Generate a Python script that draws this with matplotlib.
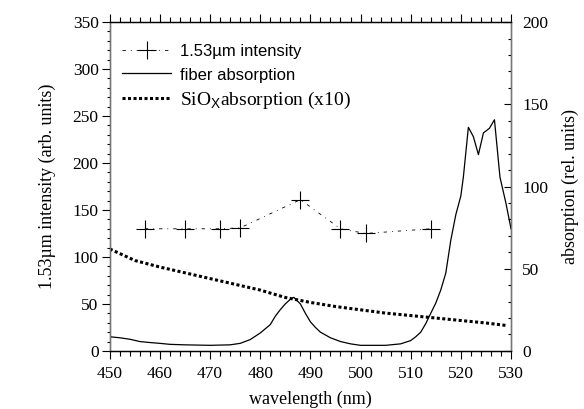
import numpy as np
import matplotlib
matplotlib.use('Agg')
import matplotlib.pyplot as plt
from matplotlib.ticker import MultipleLocator

plt.rcParams['font.family'] = ['Liberation Serif', 'DejaVu Serif']
plt.rcParams['mathtext.fontset'] = 'custom'
plt.rcParams['mathtext.rm'] = 'Liberation Sans'

# 1.53um intensity (left axis, arb. units)
pl_wl = [457, 465, 472, 476, 488, 496, 501, 514]
pl_int = [130, 130, 130, 131, 161, 130, 125, 130]

# fiber absorption (right axis, rel. units)
fib_wl = [450, 452, 454, 456, 458, 460, 462, 465, 470, 474, 476, 478, 480, 482,
          483, 484, 485, 486, 486.7, 488, 489, 490, 491, 492, 494, 496, 498, 500,
          505, 508, 510, 511, 512, 513, 514, 515, 516, 517, 518, 519, 520, 520.5,
          521.5, 522.5, 523.5, 524.5, 525.7, 526.7, 527.8, 529, 530]
fib_abs = [8.6, 8.0, 7.1, 5.7, 5.1, 4.6, 4.0, 3.7, 3.4, 3.7, 4.6, 6.9, 10.9, 16.0,
           21.1, 25.1, 28.6, 31.4, 32.6, 28.6, 22.9, 17.7, 14.3, 11.4, 8.0, 5.7, 4.3, 3.4,
           3.4, 4.3, 6.3, 8.6, 11.4, 16.6, 22.9, 29.1, 37.1, 47.4, 67.4, 82.9, 94.3, 105.7,
           136.0, 130.3, 119.4, 132.6, 135.4, 140.6, 105.7, 89.7, 74.3]

# SiOx absorption x10 (right axis, rel. units)
siox_wl = [450, 455, 460, 465, 470, 475, 480, 485, 490, 495, 500, 505, 510, 515, 520, 525, 529]
siox_abs = [62, 55, 51, 47.5, 44, 40.5, 37, 32.5, 29.5, 27, 25, 23, 21.5, 20, 18.5, 17, 15.5]

fig = plt.figure(figsize=(5.84, 4.09), dpi=100)
ax = fig.add_axes([0.188, 0.142, 0.687, 0.804])
ax2 = ax.twinx()

l1, = ax.plot(pl_wl, pl_int, color='k', lw=0.6, linestyle=(0, (4, 6, 1, 6)),
              marker='+', markersize=13, markeredgewidth=0.8)
l2, = ax2.plot(fib_wl, fib_abs, color='k', lw=0.9)
l3, = ax2.plot(siox_wl, siox_abs, color='k', lw=2.2, linestyle=(0, (1, 0.8)))

ax.set_xlim(450, 530)
ax.set_ylim(0, 350)
ax2.set_ylim(0, 200)

ax.xaxis.set_major_locator(MultipleLocator(10))
ax.xaxis.set_minor_locator(MultipleLocator(2))
ax.yaxis.set_major_locator(MultipleLocator(50))
ax.yaxis.set_minor_locator(MultipleLocator(10))
ax2.yaxis.set_major_locator(MultipleLocator(50))
ax2.yaxis.set_minor_locator(MultipleLocator(10))

ax.tick_params(which='both', direction='out', top=True, labelsize=12.5)
ax.tick_params(which='major', length=6, width=0.8)
ax.tick_params(which='minor', length=3.5, width=0.8)
ax.tick_params(axis='y', which='minor', length=2)
ax.tick_params(axis='y', which='major', pad=2)
ax.tick_params(axis='x', which='major', pad=5)
ax2.tick_params(which='both', direction='in', labelsize=12.5, pad=8)
ax2.tick_params(which='major', length=5, width=0.8)
ax2.tick_params(which='minor', length=2.5, width=0.8)

for a in (ax, ax2):
    for s in a.spines.values():
        s.set_linewidth(0.9)
ax2.spines['right'].set_color('#777777')
ax2.spines['left'].set_color('#777777')

ax.set_xlabel('wavelength (nm)', fontsize=13, labelpad=6)
ax.set_ylabel('1.53\u00b5m intensity (arb. units)', fontsize=13, labelpad=12)
ax2.set_ylabel('absorption (rel. units)', fontsize=13, labelpad=10)

leg = ax.legend([l1, l2, l3],
                ['1.53\u00b5m intensity', 'fiber absorption',
                 r'SiO$_{\mathrm{X}}$absorption (x10)'],
                loc='upper left', frameon=False, handlelength=2.5,
                handletextpad=0.45, labelspacing=0.35, fontsize=14,
                bbox_to_anchor=(-0.012, 0.99))
texts = leg.get_texts()
for t in texts[:2]:
    t.set_family('Liberation Sans')
    t.set_fontsize(12)

fig.savefig('out.png', dpi=100)
